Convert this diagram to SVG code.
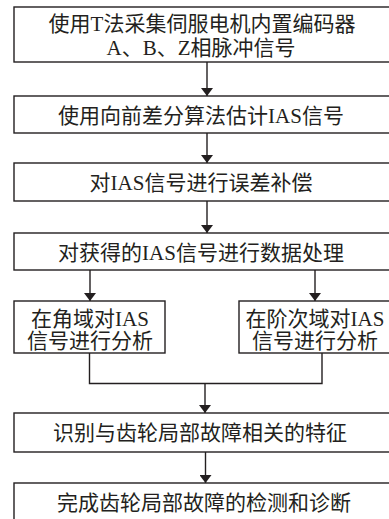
<svg xmlns="http://www.w3.org/2000/svg" width="389" height="519" viewBox="0 0 389 519">
<defs>
<marker id="ah" viewBox="0 0 8 12" refX="8" refY="6" markerWidth="8" markerHeight="12" markerUnits="userSpaceOnUse" orient="auto"><path d="M0,0 L8,6 L0,12 Z" fill="#231f20"/></marker>
</defs>
<style>
rect{fill:#fff;stroke:#231f20;stroke-width:1.4}
text{font-family:"Liberation Serif","Noto Sans CJK SC",serif;font-size:21px;fill:#231f20;text-anchor:middle}
.s{font-size:21px}
.c{fill:none;stroke:#231f20;stroke-width:1.4}
</style>
<rect x="0" y="0" width="389" height="519" style="stroke:none"/>
<g id="n1"><rect x="14" y="7" width="386" height="55"/><text x="202" y="31">使用T法采集伺服电机内置编码器</text><text x="201" y="55">A、B、Z相脉冲信号</text></g>
<g id="n2"><rect x="14" y="96" width="386" height="37"/><text x="201" y="123">使用向前差分算法估计IAS信号</text></g>
<g id="n3"><rect x="14" y="163" width="386" height="38"/><text x="201" y="190">对IAS信号进行误差补偿</text></g>
<g id="n4"><rect x="14" y="233" width="386" height="37"/><text x="201" y="260">对获得的IAS信号进行数据处理</text></g>
<g id="n5"><rect x="14" y="301" width="151" height="52"/><text class="s" x="90" y="326">在角域对IAS</text><text class="s" x="90" y="348">信号进行分析</text></g>
<g id="n6"><rect x="239" y="301" width="160" height="52"/><text class="s" x="315" y="326">在阶次域对IAS</text><text class="s" x="315" y="348">信号进行分析</text></g>
<g id="n7"><rect x="14" y="413" width="386" height="39"/><text x="200" y="440">识别与齿轮局部故障相关的特征</text></g>
<g id="n8"><rect x="14" y="483" width="386" height="50"/><text x="204" y="510">完成齿轮局部故障的检测和诊断</text></g>
<g id="connectors">
<path class="c" d="M207,62 V96" marker-end="url(#ah)"/>
<path class="c" d="M207,133 V163" marker-end="url(#ah)"/>
<path class="c" d="M207,201 V233" marker-end="url(#ah)"/>
<path class="c" d="M90,270 V301" marker-end="url(#ah)"/>
<path class="c" d="M315,270 V301" marker-end="url(#ah)"/>
<path class="c" d="M89.5,353 V383.5 H322 V353"/>
<path class="c" d="M205,383.5 V413" marker-end="url(#ah)"/>
<path class="c" d="M205.5,452 V483" marker-end="url(#ah)"/>
</g>
</svg>
